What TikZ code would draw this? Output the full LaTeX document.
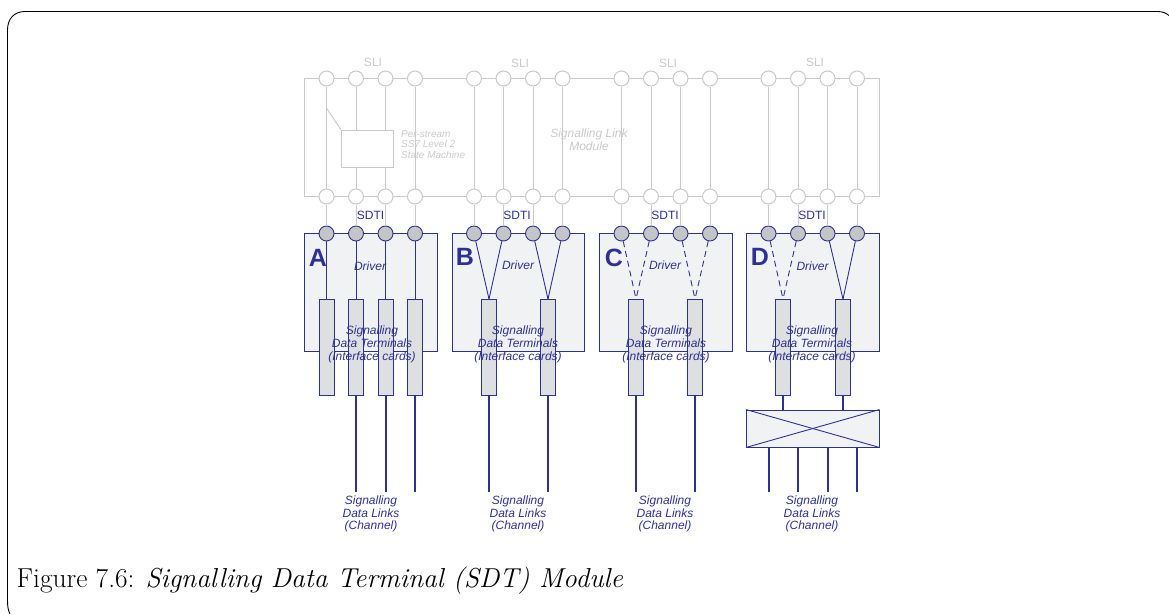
\documentclass[tikz,border=0pt]{standalone}
\usepackage{fontspec}
\setmainfont{Latin Modern Roman}
\newfontfamily\arialfont{Liberation Sans}
\definecolor{sdtblue}{HTML}{2E3192}
\definecolor{sligrey}{HTML}{C9CACB}
\definecolor{boxfill}{HTML}{F1F2F4}
\definecolor{cardfill}{HTML}{DEDFE0}
\definecolor{dotfill}{HTML}{C4C5C7}

\begin{document}
\begin{tikzpicture}[x=1pt,y=-1pt]
\tikzset{ slicirc/.style={draw=sligrey, fill=white, circle, inner sep=0pt, minimum size=15pt, line width=1pt},
          sdticirc/.style={draw=sdtblue, fill=dotfill, circle, inner sep=0pt, minimum size=15pt, line width=0.9pt},
          slibox/.style={draw=sligrey, inner sep=0pt, line width=0.95pt},
          drvbox/.style={draw=sdtblue, fill=boxfill, inner sep=0pt, minimum width=132.5pt, minimum height=117.5pt, line width=0.9pt},
          card/.style={draw=sdtblue, fill=cardfill, inner sep=0pt, minimum width=15pt, minimum height=96pt, line width=0.9pt},
          sliwire/.style={draw=sligrey, line width=0.95pt},
          drvwire/.style={draw=sdtblue, line width=0.9pt},
          linkwire/.style={draw=sdtblue, line width=1.6pt},
          lblue/.style={text=sdtblue, align=center, inner sep=0pt, font=\arialfont\fontsize{12}{12.7}\selectfont},
          lblueit/.style={lblue, font=\arialfont\itshape\fontsize{12}{12.7}\selectfont},
          lgrey/.style={text=sligrey, align=center, inner sep=0pt, font=\arialfont\fontsize{12}{13}\selectfont},
          letter/.style={text=sdtblue, inner sep=0pt, font=\arialfont\bfseries\fontsize{25}{25}\selectfont} };

\useasboundingbox (0,0) rectangle (1169,614);

% outer rounded frame, cut by the page
\draw[black, line width=0.9pt] (10,614) .. controls (8,610) and (7.5,606) .. (7.5,600)
    -- (7.5,30) .. controls (7.5,19) and (14,11.5) .. (25,11.5) -- (1158,11.5)
    .. controls (1162,11.5) and (1166,13) .. (1169,15.5);

% signalling link module
\node[slibox, minimum width=574.5pt, minimum height=118pt] (slm) at (591.75,137.5) {};

\node[slicirc] (sliA1) at (326.5,78.5) {};
\node[slicirc] (sliA2) at (356,78.5) {};
\node[slicirc] (sliA3) at (385.5,78.5) {};
\node[slicirc] (sliA4) at (415,78.5) {};
\node[slicirc] (sliB1) at (474,78.5) {};
\node[slicirc] (sliB2) at (503.5,78.5) {};
\node[slicirc] (sliB3) at (533,78.5) {};
\node[slicirc] (sliB4) at (562.5,78.5) {};
\node[slicirc] (sliC1) at (621.5,78.5) {};
\node[slicirc] (sliC2) at (651,78.5) {};
\node[slicirc] (sliC3) at (680.5,78.5) {};
\node[slicirc] (sliC4) at (710,78.5) {};
\node[slicirc] (sliD1) at (768.5,78.5) {};
\node[slicirc] (sliD2) at (798,78.5) {};
\node[slicirc] (sliD3) at (827.5,78.5) {};
\node[slicirc] (sliD4) at (857,78.5) {};

\node[slicirc] (midA1) at (326.5,196.5) {};
\node[slicirc] (midA2) at (356,196.5) {};
\node[slicirc] (midA3) at (385.5,196.5) {};
\node[slicirc] (midA4) at (415,196.5) {};
\node[slicirc] (midB1) at (474,196.5) {};
\node[slicirc] (midB2) at (503.5,196.5) {};
\node[slicirc] (midB3) at (533,196.5) {};
\node[slicirc] (midB4) at (562.5,196.5) {};
\node[slicirc] (midC1) at (621.5,196.5) {};
\node[slicirc] (midC2) at (651,196.5) {};
\node[slicirc] (midC3) at (680.5,196.5) {};
\node[slicirc] (midC4) at (710,196.5) {};
\node[slicirc] (midD1) at (768.5,196.5) {};
\node[slicirc] (midD2) at (798,196.5) {};
\node[slicirc] (midD3) at (827.5,196.5) {};
\node[slicirc] (midD4) at (857,196.5) {};

% driver boxes
\node[drvbox] (drvA) at (370.75,292.25) {};
\node[drvbox] (drvB) at (518.25,292.25) {};
\node[drvbox] (drvC) at (665.75,292.25) {};
\node[drvbox] (drvD) at (812.75,292.25) {};

\node[sdticirc] (sdtiA1) at (326.5,233.5) {};
\node[sdticirc] (sdtiA2) at (356,233.5) {};
\node[sdticirc] (sdtiA3) at (385.5,233.5) {};
\node[sdticirc] (sdtiA4) at (415,233.5) {};
\node[sdticirc] (sdtiB1) at (474,233.5) {};
\node[sdticirc] (sdtiB2) at (503.5,233.5) {};
\node[sdticirc] (sdtiB3) at (533,233.5) {};
\node[sdticirc] (sdtiB4) at (562.5,233.5) {};
\node[sdticirc] (sdtiC1) at (621.5,233.5) {};
\node[sdticirc] (sdtiC2) at (651,233.5) {};
\node[sdticirc] (sdtiC3) at (680.5,233.5) {};
\node[sdticirc] (sdtiC4) at (710,233.5) {};
\node[sdticirc] (sdtiD1) at (768.5,233.5) {};
\node[sdticirc] (sdtiD2) at (798,233.5) {};
\node[sdticirc] (sdtiD3) at (827.5,233.5) {};
\node[sdticirc] (sdtiD4) at (857,233.5) {};

% interface cards
\node[card] (cardA1) at (326.5,347.5) {};
\node[card] (cardA2) at (356,347.5) {};
\node[card] (cardA3) at (386,347.5) {};
\node[card] (cardA4) at (415,347.5) {};
\node[card] (cardB1) at (489,347.5) {};
\node[card] (cardB2) at (548,347.5) {};
\node[card] (cardC1) at (636,347.5) {};
\node[card] (cardC2) at (695,347.5) {};
\node[card] (cardD1) at (783,347.5) {};
\node[card] (cardD2) at (843,347.5) {};

\node[drvbox, minimum height=37pt] (xbarD) at (812.75,428.5) {};

\coordinate (linkA2) at (356,491.5);
\coordinate (linkA3) at (386,491.5);
\coordinate (linkA4) at (415,491.5);
\coordinate (linkB1) at (489,491.5);
\coordinate (linkB2) at (548,491.5);
\coordinate (linkC1) at (636,491.5);
\coordinate (linkC2) at (695,491.5);
\coordinate (linkD1) at (769,491.5);
\coordinate (linkD2) at (798,491.5);
\coordinate (linkD3) at (828,491.5);
\coordinate (linkD4) at (857,491.5);

\begin{scope}[sliwire]
\draw (sliA1) -- (midA1);
\draw (sliA2) -- (midA2);
\draw (sliA3) -- (midA3);
\draw (sliA4) -- (midA4);
\draw (sliB1) -- (midB1);
\draw (sliB2) -- (midB2);
\draw (sliB3) -- (midB3);
\draw (sliB4) -- (midB4);
\draw (sliC1) -- (midC1);
\draw (sliC2) -- (midC2);
\draw (sliC3) -- (midC3);
\draw (sliC4) -- (midC4);
\draw (sliD1) -- (midD1);
\draw (sliD2) -- (midD2);
\draw (sliD3) -- (midD3);
\draw (sliD4) -- (midD4);
\draw (midA1) -- (sdtiA1);
\draw (midA2) -- (sdtiA2);
\draw (midA3) -- (sdtiA3);
\draw (midA4) -- (sdtiA4);
\draw (midB1) -- (sdtiB1);
\draw (midB2) -- (sdtiB2);
\draw (midB3) -- (sdtiB3);
\draw (midB4) -- (sdtiB4);
\draw (midC1) -- (sdtiC1);
\draw (midC2) -- (sdtiC2);
\draw (midC3) -- (sdtiC3);
\draw (midC4) -- (sdtiC4);
\draw (midD1) -- (sdtiD1);
\draw (midD2) -- (sdtiD2);
\draw (midD3) -- (sdtiD3);
\draw (midD4) -- (sdtiD4);
\end{scope}

% state machine sits over the wires
\node[slibox, fill=white, minimum width=52pt, minimum height=37pt] (fsm) at (367.25,148.5) {};
\coordinate (fsmtap) at (326.5,108);
\draw[sliwire] (fsmtap) -- (fsm.north west);

\begin{scope}[drvwire]
\draw (sdtiA1) -- (sdtiA1 |- cardA1.north);
\draw (sdtiA2) -- (sdtiA2 |- cardA2.north);
\draw (sdtiA3) -- (sdtiA3 |- cardA3.north);
\draw (sdtiA4) -- (sdtiA4 |- cardA4.north);
\draw (sdtiB1) -- (cardB1.north);
\draw (sdtiB2) -- (cardB1.north);
\draw (sdtiB3) -- (cardB2.north);
\draw (sdtiB4) -- (cardB2.north);
\draw[dash pattern=on 6pt off 4pt] (sdtiC1) -- (cardC1.north);
\draw[dash pattern=on 6pt off 4pt] (sdtiC2) -- (cardC1.north);
\draw[dash pattern=on 6pt off 4pt] (sdtiC3) -- (cardC2.north);
\draw[dash pattern=on 6pt off 4pt] (sdtiC4) -- (cardC2.north);
\draw[dash pattern=on 6pt off 4pt] (sdtiD1) -- (cardD1.north);
\draw[dash pattern=on 6pt off 4pt] (sdtiD2) -- (cardD1.north);
\draw (sdtiD3) -- (cardD2.north);
\draw (sdtiD4) -- (cardD2.north);
\draw (xbarD.north west) -- (xbarD.south east);
\draw (xbarD.south west) -- (xbarD.north east);
\end{scope}

\begin{scope}[linkwire]
\draw (cardA2) -- (linkA2);
\draw (cardA3) -- (linkA3);
\draw (cardA4) -- (linkA4);
\draw (cardB1) -- (linkB1);
\draw (cardB2) -- (linkB2);
\draw (cardC1) -- (linkC1);
\draw (cardC2) -- (linkC2);
\draw (cardD1) -- (cardD1 |- xbarD.north);
\draw (cardD2) -- (cardD2 |- xbarD.north);
\draw (linkD1 |- xbarD.south) -- (linkD1);
\draw (linkD2 |- xbarD.south) -- (linkD2);
\draw (linkD3 |- xbarD.south) -- (linkD3);
\draw (linkD4 |- xbarD.south) -- (linkD4);
\end{scope}

% labels
\node[lgrey] (sliA) at (373,62) {SLI};
\node[lgrey] (sliB) at (520,63) {SLI};
\node[lgrey] (sliC) at (668,63) {SLI};
\node[lgrey] (sliD) at (815,62) {SLI};
\node[lgrey, font=\arialfont\itshape\fontsize{12}{13}\selectfont] (slmlbl) at (589,139.5) {Signalling Link\\Module};
\node[lgrey, align=left, anchor=west, font=\arialfont\itshape\fontsize{10}{10.2}\selectfont] (fsmlbl) at (401,144.5) {Per-stream\\SS7 Level 2\\State Machine};

\node[lblue] (sdtiA) at (370.5,215) {SDTI};
\node[lblue] (sdtiB) at (517,215) {SDTI};
\node[lblue] (sdtiC) at (665,215.5) {SDTI};
\node[lblue] (sdtiD) at (812,215) {SDTI};

\node[letter] (ltrA) at (318,258) {A};
\node[letter] (ltrB) at (465,257) {B};
\node[letter] (ltrC) at (614,258) {C};
\node[letter] (ltrD) at (760,257) {D};

\node[lblueit] (dvrA) at (370,266) {Driver};
\node[lblueit] (dvrB) at (518,265) {Driver};
\node[lblueit] (dvrC) at (665,265.5) {Driver};
\node[lblueit] (dvrD) at (812.5,266) {Driver};

\node[lblueit] (sdtA) at (372,344.5) {Signalling\\Data Terminals\\(Interface cards)};
\node[lblueit] (sdtB) at (518,344.5) {Signalling\\Data Terminals\\(Interface cards)};
\node[lblueit] (sdtC) at (666,344.5) {Signalling\\Data Terminals\\(Interface cards)};
\node[lblueit] (sdtD) at (812,344.5) {Signalling\\Data Terminals\\(Interface cards)};

\node[lblueit] (sdlA) at (371,514) {Signalling\\Data Links\\(Channel)};
\node[lblueit] (sdlB) at (518,514) {Signalling\\Data Links\\(Channel)};
\node[lblueit] (sdlC) at (665,514) {Signalling\\Data Links\\(Channel)};
\node[lblueit] (sdlD) at (812,514) {Signalling\\Data Links\\(Channel)};

\node[anchor=base west, inner sep=0pt, font=\fontsize{27.4}{32}\selectfont] (caption) at (16.5,587) {Figure 7.6: \textit{Signalling Data Terminal (SDT) Module}};

\end{tikzpicture}
\end{document}
